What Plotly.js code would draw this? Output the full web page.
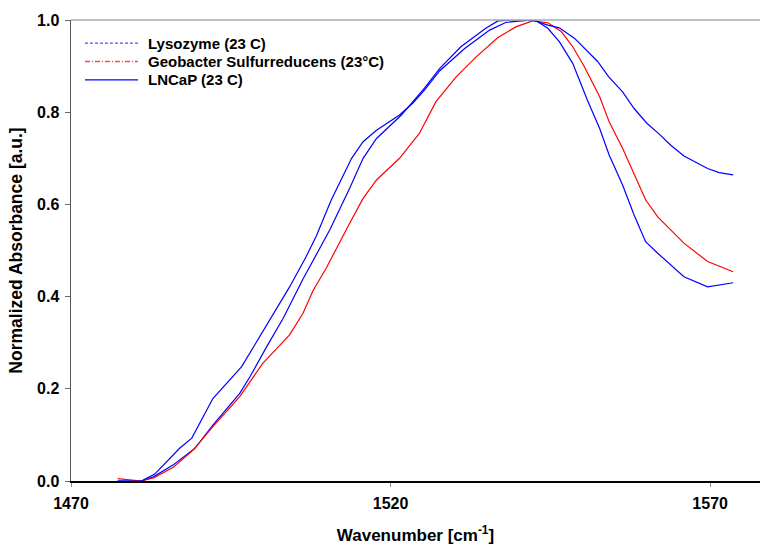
<!DOCTYPE html>
<html>
<head>
<meta charset="utf-8">
<script src="https://cdn.plot.ly/plotly-3.0.1.min.js"></script>
<style>html,body{margin:0;padding:0;background:#fff}#chart{width:762px;height:546px}</style>
</head>
<body>
<div id="chart"></div>
<script>
// Series names
const seriesNames = ["Lysozyme (23 C)", "Geobacter Sulfurreducens (23°C)", "LNCaP (23 C)"];

// Lysozyme (narrow band, steep drop after peak)
const lysoX = [1477.3,1481.0,1482.9,1486.0,1489.4,1492.2,1496.4,1498.0,1500.6,1503.2,1506.3,1508.4,1510.5,1513.6,1515.7,1517.8,1521.7,1523.5,1525.3,1527.7,1531.0,1534.9,1536.8,1539.0,1542.6,1544.6,1546.4,1548.5,1550.8,1552.7,1554.2,1556.3,1558.1,1559.9,1561.8,1565.9,1569.6,1573.6];
const lysoY = [0.000,0.000,0.009,0.035,0.071,0.121,0.190,0.226,0.291,0.353,0.438,0.490,0.545,0.635,0.700,0.743,0.794,0.823,0.852,0.895,0.942,0.982,0.998,1.000,1.000,0.982,0.953,0.906,0.826,0.765,0.707,0.642,0.577,0.519,0.494,0.443,0.421,0.430];

// Geobacter Sulfurreducens
const geoX = [1477.3,1479.0,1481.0,1483.0,1486.0,1489.1,1492.2,1496.4,1500.0,1502.1,1504.2,1506.3,1507.9,1509.9,1511.8,1513.6,1515.7,1517.8,1521.4,1524.5,1527.1,1530.3,1533.4,1536.8,1539.6,1542.2,1544.6,1546.7,1548.5,1550.3,1552.7,1554.2,1556.3,1558.1,1559.9,1561.8,1565.9,1569.6,1573.6];
const geoY = [0.005,0.003,0.000,0.007,0.030,0.067,0.118,0.183,0.255,0.286,0.317,0.364,0.414,0.461,0.512,0.559,0.613,0.653,0.700,0.754,0.823,0.877,0.920,0.962,0.985,0.998,0.994,0.975,0.942,0.899,0.834,0.779,0.722,0.667,0.610,0.573,0.516,0.476,0.454];

// LNCaP (broad band, early rise, high tail)
const lncapX = [1477.3,1481.0,1483.1,1487.0,1488.9,1492.2,1496.7,1501.1,1504.2,1506.8,1508.4,1510.7,1513.9,1515.7,1517.8,1521.4,1523.5,1525.3,1527.7,1531.6,1535.5,1538.1,1542.2,1544.6,1546.4,1548.8,1552.4,1554.1,1556.3,1558.1,1560.1,1562.0,1563.8,1565.9,1569.6,1571.4,1573.6];
const lncapY = [0.000,0.000,0.015,0.071,0.093,0.179,0.248,0.349,0.421,0.487,0.532,0.609,0.700,0.736,0.761,0.794,0.820,0.848,0.890,0.938,0.978,0.995,1.000,0.989,0.983,0.960,0.910,0.877,0.844,0.808,0.776,0.753,0.729,0.705,0.678,0.669,0.664];

// Axis ticks
const xTicks = [1470, 1520, 1570];
const yTicks = [0.0, 0.2, 0.4, 0.6, 0.8, 1.0];
const yTickText = ["0.0", "0.2", "0.4", "0.6", "0.8", "1.0"];

// Legend styling (per series)
const legendColors = ["#4d4dff", "#ff4d4d", "#0000ff"];
const legendDash = ["3px,2px", "5px,2px,1px,2px", "solid"];

const FONT = "Liberation Sans, Arial, sans-serif";
const blue = "#0000ff", red = "#ff0000";

const traces = [
  {x: lysoX, y: lysoY, mode: "lines", name: seriesNames[0], line: {color: blue, width: 1.2}, showlegend: false, hoverinfo: "skip"},
  {x: geoX, y: geoY, mode: "lines", name: seriesNames[1], line: {color: red, width: 1.2}, showlegend: false, hoverinfo: "skip"},
  {x: lncapX, y: lncapY, mode: "lines", name: seriesNames[2], line: {color: blue, width: 1.2}, showlegend: false, hoverinfo: "skip"}
];

// Manual legend placed in paper coordinates
const legRowsY = [0.950, 0.910, 0.870];
const shapes = [
  {type: "line", xref: "paper", yref: "paper", x0: 0, x1: 1, y0: 1, y1: 1, line: {color: "#aaaaaa", width: 1.5}}
];
const annotations = [];
seriesNames.forEach((nm, i) => {
  shapes.push({type: "line", xref: "paper", yref: "paper", x0: 0.0203, x1: 0.0972, y0: legRowsY[i], y1: legRowsY[i],
    line: {color: legendColors[i], width: 1.3, dash: legendDash[i]}});
  annotations.push({xref: "paper", yref: "paper", x: 0.109, y: legRowsY[i], xanchor: "left", yanchor: "middle",
    text: nm, showarrow: false, font: {family: FONT, size: 15, color: "#000", weight: "bold"}});
});

const layout = {
  width: 762, height: 546,
  margin: {l: 71, r: 2, t: 20, b: 65},
  paper_bgcolor: "#fff", plot_bgcolor: "#fff",
  font: {family: FONT, size: 13, color: "#000"},
  showlegend: false,
  xaxis: {
    range: [1470, 1577.8], tickvals: xTicks, ticktext: xTicks.map(String),
    showgrid: false, zeroline: false,
    showline: true, linecolor: "#000", linewidth: 1.5,
    ticks: "outside", ticklen: 4, tickcolor: "#888", tickwidth: 1,
    ticklabelstandoff: 3,
    tickfont: {family: FONT, size: 16, color: "#000", weight: "bold"},
    title: {text: "Wavenumber [cm<sup>-1</sup>]", font: {family: FONT, size: 17, color: "#000", weight: "bold"}, standoff: 18}
  },
  yaxis: {
    range: [0, 1], tickvals: yTicks, ticktext: yTickText,
    showgrid: false, zeroline: false,
    showline: true, linecolor: "#555", linewidth: 1.5,
    ticks: "outside", ticklen: 5, tickcolor: "#666", tickwidth: 1,
    ticklabelstandoff: 2,
    tickfont: {family: FONT, size: 16, color: "#000", weight: "bold"},
    title: {text: "Normalized Absorbance [a.u.]", font: {family: FONT, size: 17.5, color: "#000", weight: "bold"}, standoff: 10}
  },
  shapes: shapes,
  annotations: annotations
};

Plotly.newPlot("chart", traces, layout, {displayModeBar: false, staticPlot: true});
</script>
</body>
</html>
